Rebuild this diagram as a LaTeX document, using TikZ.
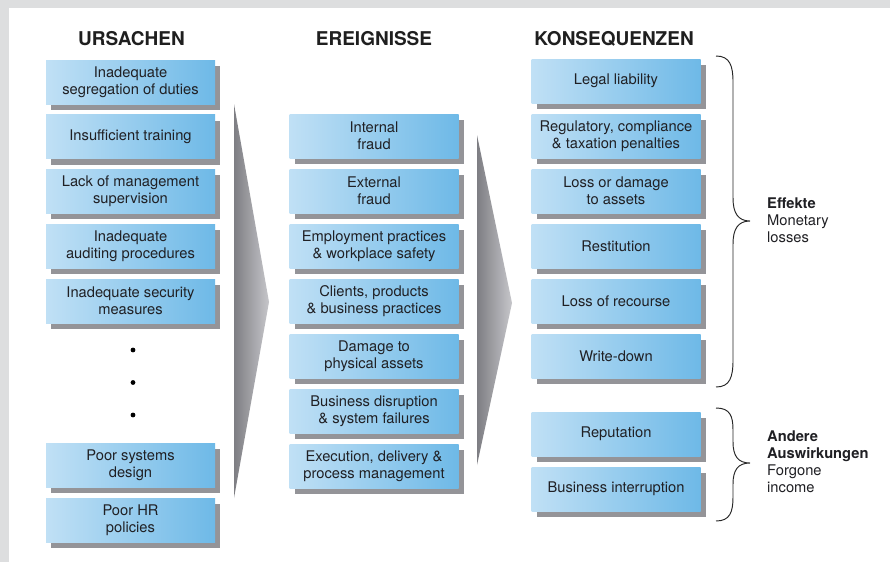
\documentclass[tikz,border=0pt]{standalone}
\usepackage{fontspec}
\setmainfont{TeX Gyre Heros}
\usetikzlibrary{shadows}
\definecolor{boxL}{RGB}{192,224,245}
\definecolor{boxR}{RGB}{110,185,231}
\definecolor{shadowc}{RGB}{148,148,152}
\definecolor{arrowL}{RGB}{126,126,131}
\definecolor{arrowR}{RGB}{198,198,202}
\definecolor{bggray}{RGB}{221,222,223}
\definecolor{textc}{RGB}{32,32,36}
\tikzset{
  box/.style={minimum width=169pt, minimum height=44pt, inner sep=0pt, align=center,
    left color=boxL, right color=boxR, text=textc,
    font=\fontsize{14.7}{17}\selectfont,
    general shadow={fill=shadowc, shadow xshift=5pt, shadow yshift=-6pt}},
  header/.style={font=\fontsize{19}{22}\selectfont\bfseries, text=black!88, inner sep=0pt},
  side/.style={font=\fontsize{14.7}{17}\selectfont, text=textc, align=left, anchor=west, inner sep=0pt},
  bracec/.style={draw=black!85, line width=0.95pt},
  dotc/.style={fill=black, draw=none}
}
\begin{document}
\begin{tikzpicture}[x=1pt, y=-1pt]
\useasboundingbox (0,0) rectangle (890,562);
\fill[bggray] (0,0) rectangle (890,562);
\fill[white] (9,8) rectangle (890,562);
% headers
\node[header] (h1) at (131.5,38.5) {URSACHEN};
\node[header] (h2) at (374,38.5) {EREIGNISSE};
\node[header] (h3) at (614,38.5) {KONSEQUENZEN};
% arrows
\shade[left color=arrowL, right color=arrowR] (234,104) -- (269,302) -- (234,498) -- cycle;
\shade[left color=arrowL, right color=arrowR] (477,135) -- (512,303) -- (477,465) -- cycle;
% left column
\node[box] (u1) at (130.5,82) {Inadequate\\segregation of duties};
\node[box] (u2) at (130.5,136.5) {Insufficient training};
\node[box] (u3) at (130.5,191) {Lack of management\\supervision};
\node[box] (u4) at (130.5,246) {Inadequate\\auditing procedures};
\node[box] (u5) at (130.5,301) {Inadequate security\\measures};
\node[box] (u6) at (130.5,465) {Poor systems\\design};
\node[box] (u7) at (130.5,520) {Poor HR\\policies};
\fill[dotc] (133,350) circle (2.4pt);
\fill[dotc] (133,382.5) circle (2.4pt);
\fill[dotc] (133,415) circle (2.4pt);
% middle column
\node[box] (e1) at (374,136) {Internal\\fraud};
\node[box] (e2) at (374,191) {External\\fraud};
\node[box] (e3) at (374,246) {Employment practices\\\& workplace safety};
\node[box] (e4) at (374,301) {Clients, products\\\& business practices};
\node[box] (e5) at (374,356) {Damage to\\physical assets};
\node[box] (e6) at (374,411) {Business disruption\\\& system failures};
\node[box] (e7) at (374,466) {Execution, delivery \&\\process management};
% right column
\node[box] (k1) at (616,81) {Legal liability};
\node[box] (k2) at (616,136) {Regulatory, compliance\\\& taxation penalties};
\node[box] (k3) at (616,191) {Loss or damage\\to assets};
\node[box] (k4) at (616,246) {Restitution};
\node[box] (k5) at (616,301) {Loss of recourse};
\node[box] (k6) at (616,356) {Write-down};
\node[box] (k7) at (616,434) {Reputation};
\node[box] (k8) at (616,489) {Business interruption};
% braces
\coordinate (b1t) at (716,56);
\coordinate (b1m) at (750,221);
\coordinate (b1b) at (716,387);
\draw[bracec] (b1t) .. controls (730,56) and (733,66) .. (733,82) -- (733,198)
  .. controls (733,213) and (738,221) .. (b1m)
  .. controls (738,221) and (733,229) .. (733,244) -- (733,360)
  .. controls (733,377) and (730,387) .. (b1b);
\coordinate (b2t) at (716,408);
\coordinate (b2m) at (750,463);
\coordinate (b2b) at (716,521);
\draw[bracec] (b2t) .. controls (730,408) and (733,416) .. (733,430) -- (733,442)
  .. controls (733,456) and (738,463) .. (b2m)
  .. controls (738,463) and (733,470) .. (733,484) -- (733,497)
  .. controls (733,512) and (730,521) .. (b2b);
% side labels
\node[side] (t1) at (767,220) {\textbf{Effekte}\\Monetary\\losses};
\node[side] (t2) at (767,461.5) {\textbf{Andere}\\\textbf{Auswirkungen}\\Forgone\\income};
\end{tikzpicture}
\end{document}
